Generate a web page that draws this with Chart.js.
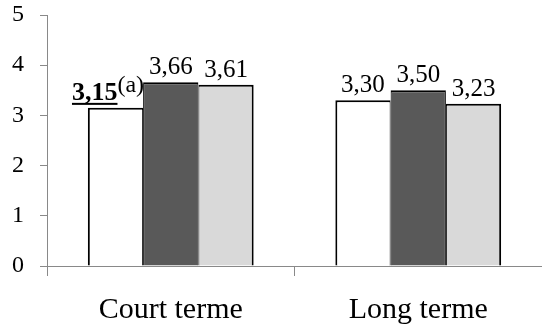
<!DOCTYPE html>
<html>
<head>
<meta charset="utf-8">
<script src="https://cdn.jsdelivr.net/npm/chart.js@4/dist/chart.umd.min.js"></script>
<style>
  html, body { margin: 0; padding: 0; background: #ffffff; }
  #wrap { width: 542px; height: 328px; position: relative; }
</style>
</head>
<body>
<div id="wrap"><canvas id="c" width="542" height="328"></canvas></div>
<script>
// ---- data ----
const categories = ['Court terme', 'Long terme'];
const seriesWhite = [3.15, 3.30];
const seriesDark  = [3.66, 3.50];
const seriesLight = [3.61, 3.23];
const yTicks = [0, 1, 2, 3, 4, 5];
// annotation on the first series: bold/underlined value with a superscript note
const whiteNotes = ['(a)', ''];
const whiteBold  = [true, false];

const FONT = "'Liberation Serif', 'Times New Roman', Times, serif";
const AXIS = '#898989';

function fmt(v) { return v.toFixed(2).replace('.', ','); }

const labelPlugin = {
  id: 'valueLabels',
  afterDatasetsDraw(chart) {
    const ctx = chart.ctx;
    ctx.save();
    ctx.fillStyle = '#000';
    ctx.textBaseline = 'alphabetic';
    chart.data.datasets.forEach((ds, di) => {
      const meta = chart.getDatasetMeta(di);
      meta.data.forEach((bar, i) => {
        const txt = fmt(ds.data[i]);
        const base = bar.y - 8;
        const note = ds.notes ? ds.notes[i] : '';
        const bold = ds.bold ? ds.bold[i] : false;
        if (note || bold) {
          ctx.font = 'bold 26px ' + FONT;
          const w1 = ctx.measureText(txt).width;
          ctx.font = '24px ' + FONT;
          const w2 = note ? ctx.measureText(note).width : 0;
          const right = bar.x + bar.width / 2 + 1;
          const left = right - w1 - w2;
          ctx.textAlign = 'left';
          ctx.font = (bold ? 'bold ' : '') + '26px ' + FONT;
          ctx.fillText(txt, left, base);
          if (bold) {
            ctx.fillRect(left, base + 3, w1, 2);
          }
          if (note) {
            ctx.font = '24px ' + FONT;
            ctx.fillText(note, left + w1, base - 8);
          }
        } else {
          ctx.textAlign = 'center';
          ctx.font = '25px ' + FONT;
          ctx.fillText(txt, bar.x, base);
        }
      });
    });
    ctx.restore();
  }
};

new Chart(document.getElementById('c'), {
  type: 'bar',
  data: {
    labels: categories,
    datasets: [
      { data: seriesWhite, backgroundColor: '#ffffff', borderColor: '#000000', borderWidth: { top: 2, left: 2, right: 1, bottom: 0 }, notes: whiteNotes, bold: whiteBold },
      { data: seriesDark,  backgroundColor: '#595959', borderColor: '#000000', borderWidth: { top: 2, left: 1, right: 1, bottom: 0 } },
      { data: seriesLight, backgroundColor: '#d9d9d9', borderColor: '#000000', borderWidth: { top: 2, left: 1, right: 2, bottom: 0 } }
    ]
  },
  options: {
    responsive: false,
    animation: false,
    devicePixelRatio: 1,
    layout: { padding: { top: 15, right: 0, left: 0, bottom: 0 } },
    plugins: { legend: { display: false }, tooltip: { enabled: false } },
    datasets: { bar: { categoryPercentage: 0.67, barPercentage: 1.0 } },
    scales: {
      x: {
        offset: true,
        grid: { display: true, drawOnChartArea: false, drawTicks: true, tickLength: 10, color: AXIS, offset: true },
        border: { display: true, color: AXIS, width: 1 },
        ticks: { color: '#000', font: { family: FONT, size: 30 }, padding: 16, maxRotation: 0 },
        afterFit(s) { s.height = 62; s.paddingLeft = 0; s.paddingRight = 0; }
      },
      y: {
        min: 0, max: 5,
        afterBuildTicks(s) { s.ticks = yTicks.map(v => ({ value: v })); },
        grid: { display: true, drawOnChartArea: false, drawTicks: true, tickLength: 7, color: AXIS },
        border: { display: true, color: AXIS, width: 1 },
        ticks: { color: '#000', font: { family: FONT, size: 24 }, padding: 16 },
        afterFit(s) { s.width = 47; s.paddingTop = 0; s.paddingBottom = 0; }
      }
    }
  },
  plugins: [labelPlugin]
});
</script>
</body>
</html>
